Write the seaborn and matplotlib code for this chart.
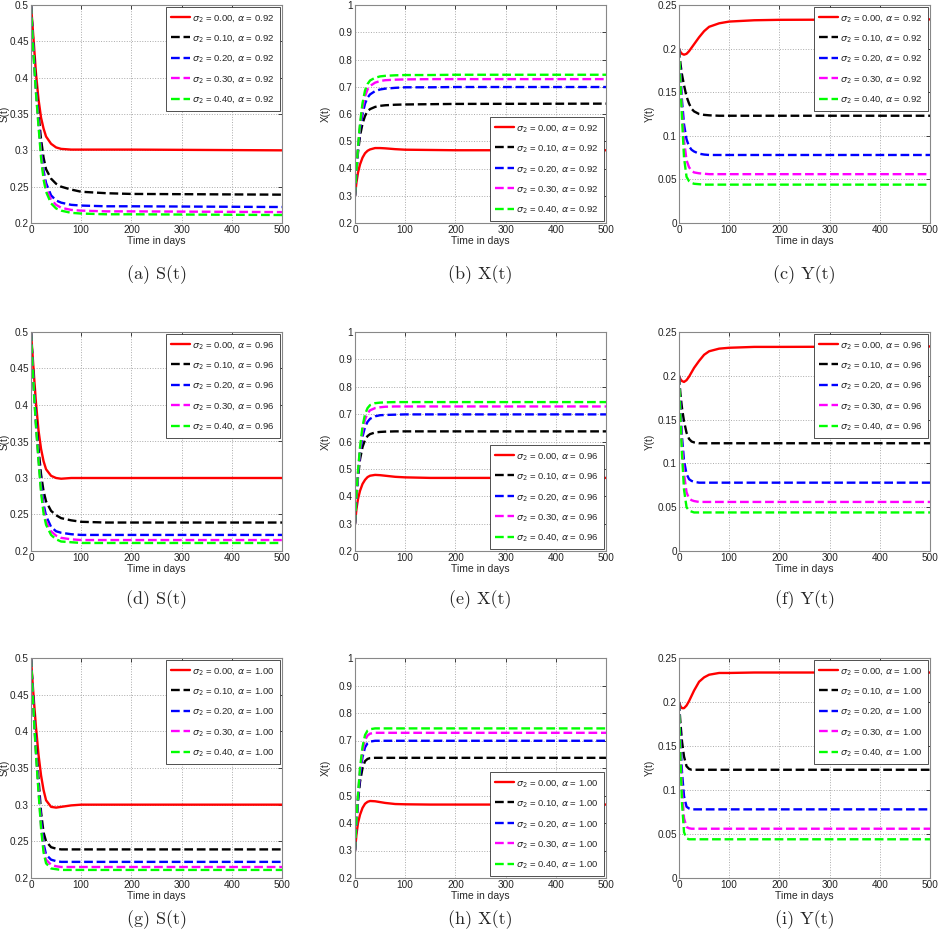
import numpy as np
import pandas as pd
import seaborn as sns
import matplotlib.pyplot as plt

# common time grid (days) for all curves
t_days = [0, 3, 6, 10, 15, 20, 25, 30, 40, 50, 60, 80, 100, 150, 200, 500]

sigma2 = ['0.00', '0.10', '0.20', '0.30', '0.40']
alphas = ['0.92', '0.96', '1.00']

# S(t), one list per sigma_2
s_092 = [
    [.5, .472, .444, .405, .37, .345, .33, .319, .309, .304, .302, .301, .301, .301, .301, .300],
    [.5, .465, .43, .39, .35, .315, .29, .274, .261, .254, .25, .246, .243, .241, .240, .239],
    [.5, .462, .425, .383, .34, .3, .272, .255, .238, .231, .228, .225, .224, .223, .223, .222],
    [.5, .46, .422, .38, .336, .295, .265, .248, .232, .225, .221, .218, .217, .216, .216, .215],
    [.5, .458, .42, .378, .333, .29, .26, .243, .227, .22, .217, .214, .213, .212, .212, .211],
]
s_096 = [
    [.5, .47, .44, .402, .365, .34, .323, .312, .303, .3, .299, .3, .3, .3, .3, .3],
    [.5, .462, .425, .383, .34, .305, .282, .268, .255, .249, .245, .242, .24, .239, .239, .239],
    [.5, .46, .42, .375, .33, .29, .264, .248, .233, .227, .225, .223, .222, .222, .222, .222],
    [.5, .458, .417, .372, .326, .285, .257, .241, .227, .221, .218, .216, .215, .215, .215, .215],
    [.5, .456, .415, .37, .323, .28, .252, .236, .222, .216, .213, .212, .211, .211, .211, .211],
]
s_100 = [
    [.5, .468, .44, .405, .368, .34, .32, .306, .297, .296, .297, .299, .3, .3, .3, .3],
    [.5, .462, .425, .38, .335, .29, .262, .25, .242, .24, .239, .239, .239, .239, .239, .239],
    [.5, .46, .42, .373, .325, .278, .247, .232, .225, .223, .222, .222, .222, .222, .222, .222],
    [.5, .458, .417, .37, .32, .272, .24, .225, .218, .216, .215, .215, .215, .215, .215, .215],
    [.5, .456, .415, .367, .317, .268, .235, .22, .213, .212, .211, .211, .211, .211, .211, .211],
]

# X(t)
x_092 = [
    [.3, .35, .385, .415, .44, .456, .465, .47, .475, .475, .474, .471, .469, .468, .467, .467],
    [.3, .39, .46, .52, .565, .593, .61, .618, .626, .63, .632, .634, .635, .636, .637, .638],
    [.3, .395, .47, .545, .6, .638, .66, .672, .684, .69, .693, .696, .698, .698, .699, .699],
    [.3, .4, .475, .555, .622, .665, .69, .703, .715, .721, .724, .726, .727, .728, .728, .728],
    [.3, .4, .48, .566, .64, .687, .71, .723, .733, .738, .74, .742, .743, .743, .744, .744],
]
x_096 = [
    [.3, .355, .39, .42, .445, .46, .47, .475, .478, .477, .475, .471, .469, .467, .467, .467],
    [.3, .395, .47, .535, .58, .606, .62, .627, .633, .635, .636, .637, .637, .637, .637, .637],
    [.3, .4, .48, .56, .618, .653, .672, .683, .692, .696, .697, .698, .699, .699, .699, .699],
    [.3, .405, .487, .57, .638, .68, .703, .714, .722, .725, .727, .728, .728, .728, .728, .728],
    [.3, .41, .492, .58, .655, .7, .722, .733, .74, .742, .743, .744, .744, .744, .744, .744],
]
x_100 = [
    [.3, .36, .4, .43, .455, .47, .477, .48, .479, .476, .473, .469, .468, .467, .467, .467],
    [.3, .4, .48, .55, .6, .625, .633, .636, .637, .637, .637, .637, .637, .637, .637, .637],
    [.3, .405, .49, .575, .64, .675, .69, .696, .699, .699, .699, .699, .699, .699, .699, .699],
    [.3, .41, .5, .59, .66, .702, .718, .725, .728, .728, .728, .728, .728, .728, .728, .728],
    [.3, .415, .505, .6, .677, .72, .736, .741, .744, .744, .744, .744, .744, .744, .744, .744],
]

# Y(t)
y_092 = [
    [.2, .196, .194, .193, .194, .197, .201, .205, .213, .22, .225, .229, .231, .2325, .233, .2335],
    [.2, .182, .17, .158, .145, .137, .131, .128, .125, .124, .1235, .123, .123, .123, .123, .123],
    [.2, .17, .14, .113, .096, .088, .084, .082, .0795, .0785, .078, .078, .078, .078, .078, .078],
    [.2, .165, .13, .095, .072, .064, .06, .058, .057, .0565, .056, .056, .056, .056, .056, .056],
    [.2, .16, .12, .075, .053, .048, .046, .045, .0445, .044, .044, .044, .044, .044, .044, .044],
]
y_096 = [
    [.2, .196, .194, .193, .195, .199, .204, .209, .217, .224, .228, .231, .232, .233, .233, .2335],
    [.2, .178, .163, .148, .135, .128, .125, .124, .123, .123, .123, .123, .123, .123, .123, .123],
    [.2, .162, .13, .103, .088, .082, .08, .079, .078, .078, .078, .078, .078, .078, .078, .078],
    [.2, .155, .12, .088, .067, .06, .058, .057, .056, .056, .056, .056, .056, .056, .056, .056],
    [.2, .15, .11, .07, .05, .046, .045, .044, .044, .044, .044, .044, .044, .044, .044, .044],
]
y_100 = [
    [.2, .195, .193, .193, .196, .201, .207, .213, .223, .228, .231, .233, .233, .2335, .2335, .2335],
    [.2, .175, .155, .138, .127, .124, .123, .123, .123, .123, .123, .123, .123, .123, .123, .123],
    [.2, .155, .12, .093, .081, .079, .078, .078, .078, .078, .078, .078, .078, .078, .078, .078],
    [.2, .145, .1, .068, .058, .0565, .056, .056, .056, .056, .056, .056, .056, .056, .056, .056],
    [.2, .135, .085, .052, .045, .044, .044, .044, .044, .044, .044, .044, .044, .044, .044, .044],
]

colors = ['#ff0000', '#000000', '#0000ff', '#ff00ff', '#00ff00']
styles = ['-', '--', '--', '--', '--']

sns.set_style('white')
plt.rcParams['font.family'] = ['Liberation Sans Narrow', 'Liberation Sans', 'DejaVu Sans']

fig = plt.figure(figsize=(9.38, 9.41), dpi=100)
W, H = 938, 941
col_left = [31, 355, 679]
ax_w = 251
rows = [(5, 223), (332, 551), (658, 878)]
caption_y = [275, 600, 920]

panels = [
    [(s_092, 'S(t)', 'upper right'), (x_092, 'X(t)', 'lower right'), (y_092, 'Y(t)', 'upper right')],
    [(s_096, 'S(t)', 'upper right'), (x_096, 'X(t)', 'lower right'), (y_096, 'Y(t)', 'upper right')],
    [(s_100, 'S(t)', 'upper right'), (x_100, 'X(t)', 'lower right'), (y_100, 'Y(t)', 'upper right')],
]
ylims = {'S(t)': (0.2, 0.5), 'X(t)': (0.2, 1.0), 'Y(t)': (0.0, 0.25)}
yticks = {'S(t)': [0.2, 0.25, 0.3, 0.35, 0.4, 0.45, 0.5],
          'X(t)': [0.2, 0.3, 0.4, 0.5, 0.6, 0.7, 0.8, 0.9, 1.0],
          'Y(t)': [0, 0.05, 0.1, 0.15, 0.2, 0.25]}
letters = 'abcdefghi'

for r, (top, bot) in enumerate(rows):
    for c in range(3):
        data, name, loc = panels[r][c]
        ax = fig.add_axes([col_left[c] / W, 1 - bot / H, ax_w / W, (bot - top) / H])
        for k in range(5):
            df = pd.DataFrame({'t': t_days, 'v': data[k]})
            sns.lineplot(data=df, x='t', y='v', ax=ax, color=colors[k], linestyle=styles[k],
                         linewidth=1.7,
                         label=r'$\sigma_2$ = %s, $\alpha$ = %s' % (sigma2[k], alphas[r]))
        ax.set_xlim(0, 500)
        ax.set_ylim(*ylims[name])
        ax.set_xticks([0, 100, 200, 300, 400, 500])
        ax.set_yticks(yticks[name])
        ax.set_yticklabels(['%g' % v for v in yticks[name]])
        ax.tick_params(direction='in', top=True, right=True, length=3, width=0.6,
                       labelsize=7.2, pad=1.5, colors='#222222')
        ax.grid(True, linestyle=':', color='#aaaaaa', linewidth=0.7)
        for sp in ax.spines.values():
            sp.set_color('#888888')
            sp.set_linewidth(0.8)
        ax.set_xlabel('Time in days', fontsize=7.5, labelpad=1)
        ax.set_ylabel(name, fontsize=7.2)
        # y label sits in the narrow left margin, keep it inside the figure
        ylab_right = col_left[c] - 21 if c == 0 else col_left[c] - 24
        ax.yaxis.set_label_coords((ylab_right - col_left[c]) / ax_w, 0.5)
        leg = ax.legend(loc=loc, fontsize=6.8, frameon=True, fancybox=False, framealpha=1,
                        edgecolor='#333333', handlelength=2.0, labelspacing=1.0,
                        borderaxespad=0.25, handletextpad=0.25, borderpad=0.55)
        leg.get_frame().set_linewidth(0.6)
        fig.text((col_left[c] + ax_w / 2) / W, 1 - caption_y[r] / H,
                 '(%s) %s' % (letters[r * 3 + c], name), fontfamily='cmr10',
                 fontsize=13, ha='center', va='center')

fig.savefig('out.png', dpi=100)
